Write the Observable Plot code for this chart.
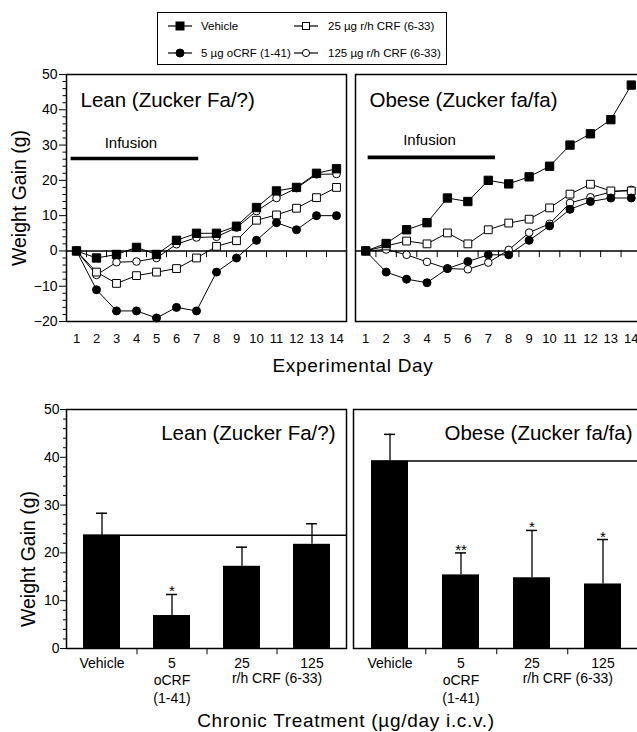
<!DOCTYPE html>
<html>
<head>
<meta charset="utf-8">
<script src="https://cdn.jsdelivr.net/npm/d3@7"></script>
<script src="https://cdn.jsdelivr.net/npm/@observablehq/plot@0.6"></script>
<style>
  html, body { margin: 0; padding: 0; background: #fff; overflow: hidden; }
  #fig { position: relative; width: 637px; height: 732px; overflow: hidden; font-family: "Liberation Sans", Arial, sans-serif; color: #000; }
  .panel { position: absolute; }
  .lbl { position: absolute; white-space: nowrap; font-size: 19px; line-height: 19px; letter-spacing: 0.7px; transform: translateX(-50%); }
  #legend { position: absolute; left: 157px; top: 12px; width: 290px; height: 53px; border: 1px solid #000; box-sizing: border-box; }
  .lg { position: absolute; display: flex; align-items: center; font-size: 11.5px; line-height: 14px; height: 14px; white-space: nowrap; }
  .lg svg { margin-right: 9px; }
</style>
</head>
<body>
<div id="fig">
  <div id="legend"></div>
  <div class="panel" id="topLeft" style="left:0px;top:60px;width:350px;height:290px"></div>
  <div class="panel" id="topRight" style="left:300px;top:60px;width:345px;height:290px"></div>
  <div class="lbl" style="left:353px;top:356px">Experimental Day</div>
  <div class="panel" id="botLeft" style="left:0px;top:400px;width:350px;height:300px"></div>
  <div class="panel" id="botRight" style="left:300px;top:400px;width:345px;height:300px"></div>
  <div class="lbl" style="left:346px;top:711px">Chronic Treatment (µg/day i.c.v.)</div>
</div>
<script>
// ---------------- DATA ----------------
const days = [1, 2, 3, 4, 5, 6, 7, 8, 9, 10, 11, 12, 13, 14];
const dayBoundaries = [1.5, 2.5, 3.5, 4.5, 5.5, 6.5, 7.5, 8.5, 9.5, 10.5, 11.5, 12.5, 13.5];

const seriesNames = ["Vehicle", "5 µg oCRF (1-41)", "25 µg r/h CRF (6-33)", "125 µg r/h CRF (6-33)"];
const seriesSymbols = ["square", "circle", "square", "circle"];
const seriesFilled = [true, true, false, false];

// Lean (Zucker Fa/?) daily weight gain (g)
const leanVehicle = [0, -2, -1, 1, -1, 3, 5, 5, 7, 12.3, 17, 18, 22, 23.3];
const leanOCRF5   = [0, -11, -17, -17, -19, -16, -17, -6, -2, 3, 8, 6, 10, 10];
const leanCRF25   = [0, -6, -9.2, -7, -6, -5, -2, 1.3, 2.9, 8.7, 10.2, 12.1, 15.1, 18];
const leanCRF125  = [0, -6.8, -3.2, -3, -2, 1.9, 3.8, 4, 6.6, 11.3, 15, 17.8, 21.7, 21.8];

// Obese (Zucker fa/fa) daily weight gain (g)
const obeseVehicle = [0, 2.1, 6, 8, 15, 14, 20, 19, 21, 24, 30, 33.2, 37.2, 47];
const obeseOCRF5   = [0, -6, -8, -9, -5, -3, -1.1, -1.1, 3, 7.1, 11.8, 14, 15, 15];
const obeseCRF25   = [0, 1.4, 2.8, 2, 5.1, 2, 6, 7.9, 9, 12.2, 16.1, 18.9, 17, 17];
const obeseCRF125  = [0, 0.4, -1.1, -3.1, -5, -5.2, -3.3, 0.3, 5.2, 7.7, 13.6, 15.2, 16.7, 17.3];

const infusionLean  = {x1: 0.73, x2: 7.11, y: 26.2, textX: 3.72, textY: 30.6};
const infusionObese = {x1: 1.12, x2: 7.35, y: 26.5, textX: 4.12, textY: 31.5};

const yTicksTop = [-20, -10, 0, 10, 20, 30, 40, 50];
const yMinorTop = [-18, -16, -14, -12, -8, -6, -4, -2, 2, 4, 6, 8, 12, 14, 16, 18, 22, 24, 26, 28, 32, 34, 36, 38, 42, 44, 46, 48];

// Chronic treatment totals (g), mean and upper end of error bar
const treatments = ["Vehicle", "5", "25", "125"];
const treatmentLabels = ["Vehicle", "5\noCRF\n(1-41)", "25", "125"];
const sharedLabel = "r/h CRF (6-33)";
const leanMeans  = [23.7, 6.9, 17.2, 21.8];
const leanUpper  = [28.3, 11.3, 21.2, 26.1];
const leanSig    = ["", "*", "", ""];
const obeseMeans = [39.2, 15.4, 14.8, 13.5];
const obeseUpper = [44.8, 20.0, 24.7, 22.8];
const obeseSig   = ["", "**", "*", "*"];

const yTicksBottom = [0, 10, 20, 30, 40, 50];
const yMinorBottom = [2, 4, 6, 8, 12, 14, 16, 18, 22, 24, 26, 28, 32, 34, 36, 38, 42, 44, 46, 48];

// ---------------- HELPERS ----------------
const FONT = "'Liberation Sans', Arial, Helvetica, sans-serif";
const svgStyle = {background: "transparent", maxWidth: "none", overflow: "visible", fontFamily: FONT};

function toRows(vals) { return days.map((d, i) => ({day: d, value: vals[i]})); }

function seriesMarks(seriesVals) {
  const marks = [];
  seriesVals.forEach(v => marks.push(Plot.line(toRows(v), {x: "day", y: "value", stroke: "#000", strokeWidth: 1})));
  const order = [3, 2, 1, 0];
  order.forEach(k => {
    const filled = seriesFilled[k];
    const isSq = seriesSymbols[k] === "square";
    marks.push(Plot.dot(toRows(seriesVals[k]), {
      x: "day", y: "value", symbol: seriesSymbols[k],
      r: isSq ? (filled ? 4.7 : 4.4) : (filled ? 4.0 : 3.8),
      fill: filled ? "#000" : "#fff", stroke: "#000", strokeWidth: 1
    }));
  });
  return marks;
}

function linePanel(el, {seriesVals, title, inf, showY, width, marginLeft, marginRight}) {
  const marks = [
    Plot.frame({stroke: "#000", strokeWidth: 1.5}),
    Plot.ruleY([0], {stroke: "#000", strokeWidth: 1.6}),
    Plot.ruleX(dayBoundaries, {x: d => d, y1: 0, y2: -1.9, stroke: "#000", strokeWidth: 1}),
    Plot.ruleY([inf], {x1: "x1", x2: "x2", y: "y", stroke: "#000", strokeWidth: 3.6}),
    Plot.text([inf], {x: "textX", y: "textY", text: () => "Infusion", fontSize: 15}),
    Plot.text([title], {frameAnchor: "top-left", textAnchor: "start", lineAnchor: "bottom", dx: 14, dy: 32.5, fontSize: 20.5, text: d => d}),
    Plot.text(days, {x: d => d, text: d => String(d), frameAnchor: "bottom", lineAnchor: "top", dy: 12, fontSize: 13}),
    ...seriesMarks(seriesVals)
  ];
  if (showY) {
    marks.push(
      Plot.axisY({ticks: yMinorTop, tickSize: 3.5, tickFormat: () => "", label: null, strokeWidth: 1}),
      Plot.axisY({ticks: yTicksTop, tickSize: 7, tickPadding: 2, label: null, fontSize: 14, strokeWidth: 1}),
      Plot.text(["Weight Gain (g)"], {frameAnchor: "left", textAnchor: "middle", dx: -47, rotate: -90, fontSize: 19.5, text: d => d, style: "letter-spacing:1.1px"})
    );
  }
  const p = Plot.plot({
    width, height: 290,
    marginLeft, marginRight, marginTop: 14, marginBottom: 29,
    style: svgStyle,
    x: {domain: [0.5, 14.5], axis: null},
    y: showY ? {domain: [-20, 50]} : {domain: [-20, 50], axis: null},
    marks
  });
  el.appendChild(p);
}

function barPanel(el, {means, upper, sig, title, showY, width, marginLeft, marginRight, padIn, padOut, half, titleDx}) {
  const rows = treatments.map((c, i) => ({cat: c, label: treatmentLabels[i], mean: means[i], upper: upper[i], sig: sig[i]}));
  const outerGap = padOut * half * 2;
  const marks = [
    Plot.frame({stroke: "#000", strokeWidth: 1.5}),
    Plot.ruleY([rows[0]], {y: "mean", x1: () => treatments[0], x2: () => treatments[treatments.length - 1], insetRight: -outerGap, stroke: "#000", strokeWidth: 1.5}),
    Plot.barY(rows, {x: "cat", y: "mean", fill: "#000"}),
    Plot.ruleX(rows, {x: "cat", y1: "mean", y2: "upper", stroke: "#000", strokeWidth: 1.3}),
    Plot.tickY(rows, {x: "cat", y: "upper", insetLeft: 13, insetRight: 13, stroke: "#000", strokeWidth: 1.5}),
    Plot.text(rows, {x: "cat", y: "upper", text: "sig", lineAnchor: "bottom", dy: 2, fontSize: 15}),
    Plot.ruleX(treatments.slice(0, 3), {x: d => d, dx: half, y1: 0, y2: -1.3, stroke: "#000", strokeWidth: 1}),
    Plot.text(rows, {x: "cat", text: "label", frameAnchor: "bottom", lineAnchor: "top", dy: 7, lineHeight: 1.25, fontSize: 14}),
    Plot.text([sharedLabel], {x: () => treatments[2], dx: half, text: d => d, frameAnchor: "bottom", lineAnchor: "top", dy: 7 + 17.5, fontSize: 14}),
    Plot.text([title], {frameAnchor: "top-right", textAnchor: "end", lineAnchor: "bottom", dx: titleDx, dy: 30, fontSize: 20.5, text: d => d})
  ];
  if (showY) {
    marks.push(
      Plot.axisY({ticks: yMinorBottom, tickSize: 3, tickFormat: () => "", label: null, strokeWidth: 1}),
      Plot.axisY({ticks: yTicksBottom, tickSize: 6, tickPadding: 1, label: null, fontSize: 14, strokeWidth: 1}),
      Plot.text(["Weight Gain (g)"], {frameAnchor: "left", textAnchor: "middle", dx: -38, dy: 30, rotate: -90, fontSize: 19.5, text: d => d, style: "letter-spacing:1.1px"})
    );
  }
  const p = Plot.plot({
    width, height: 300,
    marginLeft, marginRight, marginTop: 9, marginBottom: 52,
    style: svgStyle,
    x: {domain: treatments, paddingInner: padIn, paddingOuter: padOut, axis: null},
    y: showY ? {domain: [0, 50]} : {domain: [0, 50], axis: null},
    marks
  });
  el.appendChild(p);
}

// ---------------- LEGEND ----------------
const legend = document.getElementById("legend");
const legendPos = [[10, 6], [10, 32.7], [136, 6], [136, 32.7]];
seriesNames.forEach((name, k) => {
  const div = document.createElement("div");
  div.className = "lg";
  div.style.left = legendPos[k][0] + "px";
  div.style.top = legendPos[k][1] + "px";
  const filled = seriesFilled[k];
  const sym = seriesSymbols[k] === "square"
    ? `<rect x="${filled ? 8 : 8.5}" y="${filled ? 2 : 2.5}" width="${filled ? 8 : 7}" height="${filled ? 8 : 7}" fill="${filled ? "#000" : "#fff"}" stroke="#000" stroke-width="1"/>`
    : `<circle cx="12" cy="6" r="${filled ? 4 : 3.6}" fill="${filled ? "#000" : "#fff"}" stroke="#000" stroke-width="1"/>`;
  div.innerHTML = `<svg width="24" height="12"><line x1="0" y1="6" x2="24" y2="6" stroke="#000" stroke-width="1.2"/>${sym}</svg><span>${name}</span>`;
  if (k >= 2) div.querySelector("svg").style.marginRight = "10px";
  legend.appendChild(div);
});

// ---------------- PANELS ----------------
linePanel(document.getElementById("topLeft"), {
  seriesVals: [leanVehicle, leanOCRF5, leanCRF25, leanCRF125],
  title: "Lean (Zucker Fa/?)", inf: infusionLean, showY: true,
  width: 350, marginLeft: 66, marginRight: 4
});
linePanel(document.getElementById("topRight"), {
  seriesVals: [obeseVehicle, obeseOCRF5, obeseCRF25, obeseCRF125],
  title: "Obese (Zucker fa/fa)", inf: infusionObese, showY: false,
  width: 345, marginLeft: 55, marginRight: 4
});
barPanel(document.getElementById("botLeft"), {
  means: leanMeans, upper: leanUpper, sig: leanSig,
  title: "Lean (Zucker Fa/?)", showY: true,
  width: 350, marginLeft: 66, marginRight: 4, padIn: 0.476, padOut: 0.238, half: 35, titleDx: -11
});
barPanel(document.getElementById("botRight"), {
  means: obeseMeans, upper: obeseUpper, sig: obeseSig,
  title: "Obese (Zucker fa/fa)", showY: false,
  width: 345, marginLeft: 53, marginRight: 6, padIn: 0.48, padOut: 0.24, half: 35.75, titleDx: -7
});
</script>
</body>
</html>
